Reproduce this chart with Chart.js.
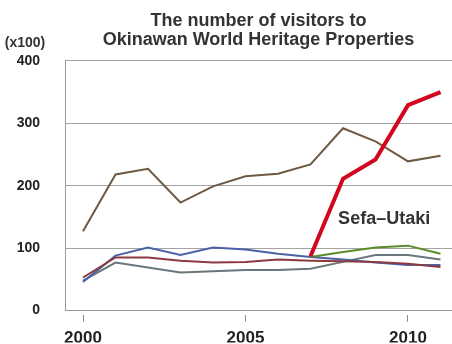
<!doctype html>
<html>

<head>
  <title>Okinawan World Heritage visitors</title>
  <script src="https://cdn.jsdelivr.net/npm/chart.js@4.4.1/dist/chart.umd.min.js"></script>
  <style>
    html, body {
      margin: 0;
      padding: 0;
      background: #fff;
      overflow: hidden;
    }
    .chart {
      position: relative;
      width: 452px;
      height: 344px;
    }
  </style>
</head>

<body>
  <div class="chart">
    <canvas id="myChart"></canvas>
  </div>

  <script>
    // visitors, in units of 100
    var years = [2000, 2001, 2002, 2003, 2004, 2005, 2006, 2007, 2008, 2009, 2010, 2011];
    var brownSite = [127, 218, 227, 173, 199, 215, 219, 234, 292, 271, 239, 248];
    var blueSite = [46, 88, 101, 89, 101, 98, 91, 86, 82, 77, 73, 73];
    var maroonSite = [53, 85, 85, 80, 77, 78, 82, 80, 79, 78, 75, 70];
    var greySite = [48, 77, 69, 61, 63, 65, 65, 67, 78, 89, 89, 82];
    var greenSite = [null, null, null, null, null, null, null, 86, 94, 101, 104, 91];
    var sefaUtaki = [null, null, null, null, null, null, null, 87, 211, 242, 329, 350];
    var yTicks = [0, 100, 200, 300, 400];
    var xTicks = [2000, 2005, 2010];

    function toPoints(values) {
      return years.map(function(year, i) {
        return { x: year, y: values[i] };
      });
    }

    function makeSeries(label, values, color, width) {
      return {
        label: label,
        data: toPoints(values),
        borderColor: color,
        backgroundColor: color,
        borderWidth: width,
        pointRadius: 0,
        fill: false,
        tension: 0,
        spanGaps: false
      };
    }

    var sans = "'Liberation Sans', Arial, sans-serif";

    var extraText = {
      id: 'extraText',
      afterDraw: function(chart) {
        var ctx = chart.ctx;
        var xs = chart.scales.x;
        var ys = chart.scales.y;
        ctx.save();
        ctx.fillStyle = '#333';
        ctx.font = 'bold 14px ' + sans;
        ctx.textAlign = 'center';
        ctx.textBaseline = 'alphabetic';
        ctx.fillText('(x100)', 25, 47);
        ctx.font = 'bold 18px ' + sans;
        ctx.textAlign = 'left';
        ctx.fillText('Sefa\u2013Utaki', xs.getPixelForValue(2007.85), ys.getPixelForValue(139));
        ctx.restore();
      }
    };

    var config = {
      type: 'line',
      data: {
        datasets: [
          makeSeries('Sefa-Utaki', sefaUtaki, '#d2061e', 4),
          makeSeries('Site A', brownSite, '#6e5a43', 2),
          makeSeries('Site E', greenSite, '#5c8b2c', 2),
          makeSeries('Site C', maroonSite, '#8c3a3e', 2),
          makeSeries('Site B', blueSite, '#4a63a6', 2),
          makeSeries('Site D', greySite, '#6a767c', 2)
        ]
      },
      options: {
        responsive: true,
        maintainAspectRatio: false,
        animation: false,
        layout: {
          padding: { left: 0, right: 0, top: 0, bottom: 0 }
        },
        scales: {
          x: {
            type: 'linear',
            min: 1999.446,
            max: 2011.354,
            afterFit: function(scale) { scale.height = 32; },
            afterBuildTicks: function(scale) {
              scale.ticks = xTicks.map(function(v) { return { value: v }; });
            },
            ticks: {
              includeBounds: false,
              color: '#222',
              padding: 7,
              font: { family: sans, size: 17, weight: 'bold' },
              callback: function(v) { return String(v); }
            },
            grid: {
              drawOnChartArea: false,
              drawTicks: true,
              tickLength: 11,
              tickColor: '#888',
              tickBorderDash: [0, 4, 7, 100]
            },
            border: { display: true, color: '#999', width: 1 }
          },
          y: {
            min: 0,
            max: 400,
            afterFit: function(scale) { scale.width = 65; },
            afterBuildTicks: function(scale) {
              scale.ticks = yTicks.map(function(v) { return { value: v }; });
            },
            ticks: {
              color: '#222',
              padding: 25,
              font: { family: sans, size: 14, weight: 'bold' }
            },
            grid: {
              color: '#a3a3a3',
              lineWidth: 1,
              drawTicks: false
            },
            border: { display: true, color: '#999', width: 1 }
          }
        },
        plugins: {
          legend: { display: false },
          tooltip: { enabled: false },
          title: {
            display: true,
            fullSize: false,
            text: ['The number of visitors to', 'Okinawan World Heritage Properties'],
            color: '#333',
            font: { family: sans, size: 18, weight: 'bold', lineHeight: 1.05 },
            padding: { top: 12, bottom: 11 }
          }
        }
      },
      plugins: [extraText]
    };

    window.onload = function() {
      var ctx = document.getElementById('myChart').getContext('2d');
      window.myChart = new Chart(ctx, config);
    };
  </script>
</body>

</html>
